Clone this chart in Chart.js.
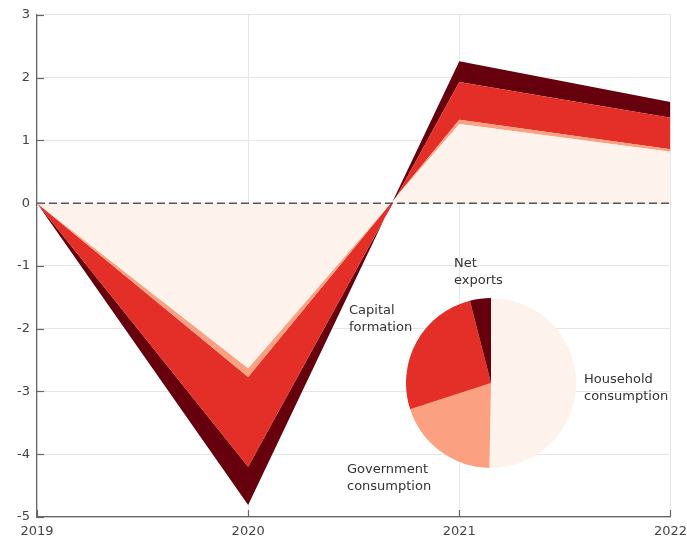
<!DOCTYPE html>
<html>
<head>
<meta charset="utf-8">
<script src="https://cdn.jsdelivr.net/npm/chart.js@4"></script>
<style>
  body { margin: 0; background: #fff; }
  #wrap { position: relative; width: 687px; height: 540px; overflow: hidden; }
  #main { position: absolute; left: 0; top: 0; }
  #pie { position: absolute; left: 406px; top: 298px; }
  .lbl { position: absolute; font: 13px "DejaVu Sans"; color: #333; line-height: 17px; white-space: nowrap; }
</style>
</head>
<body>
<div id="wrap">
  <canvas id="main" width="694" height="540"></canvas>
  <canvas id="pie" width="170" height="170"></canvas>
  <div class="lbl" style="left:454px;top:254px">Net<br>exports</div>
  <div class="lbl" style="left:349px;top:301px">Capital<br>formation</div>
  <div class="lbl" style="left:584px;top:370px">Household<br>consumption</div>
  <div class="lbl" style="left:347px;top:460px">Government<br>consumption</div>
</div>
<script>
// contributions to growth, percentage points
const years = ['2019', '2020', '2021', '2022'];
const household = [0, -2.63, 1.26, 0.82];
const government = [0, -0.14, 0.07, 0.04];
const capital = [0, -1.43, 0.60, 0.50];
const netExports = [0, -0.61, 0.33, 0.25];
const zeroLine = [0, 0, 0, 0];

// share of each component (pie)
const pieLabels = ['Household consumption', 'Government consumption', 'Capital formation', 'Net exports'];
const pieShares = [50.3, 19.7, 26.0, 4.0];

const colors = ['#fef2ec', '#fca082', '#e32f27', '#67000d'];

function area(label, data, color, fill) {
  return {
    label: label,
    data: data,
    backgroundColor: color,
    borderColor: 'transparent',
    borderWidth: 0,
    pointRadius: 0,
    tension: 0,
    fill: fill
  };
}

// inward tick marks, like the original axes
const innerTicks = {
  id: 'innerTicks',
  afterDraw(chart) {
    const ctx = chart.ctx;
    const xs = chart.scales.x, ys = chart.scales.y;
    ctx.save();
    ctx.strokeStyle = '#666';
    ctx.lineWidth = 1.2;
    ys.ticks.forEach(t => {
      const y = Math.round(ys.getPixelForValue(t.value)) + 0.5;
      ctx.beginPath();
      ctx.moveTo(xs.left, y);
      ctx.lineTo(xs.left + 7, y);
      ctx.stroke();
    });
    years.forEach((yr, i) => {
      const x = Math.round(xs.getPixelForValue(i)) + 0.5;
      ctx.beginPath();
      ctx.moveTo(x, ys.bottom);
      ctx.lineTo(x, ys.bottom - 7);
      ctx.stroke();
    });
    ctx.restore();
  }
};

new Chart(document.getElementById('main'), {
  type: 'line',
  data: {
    labels: years,
    datasets: [
      area('Household consumption', household, colors[0], 'origin'),
      area('Government consumption', government, colors[1], '-1'),
      area('Capital formation', capital, colors[2], '-1'),
      area('Net exports', netExports, colors[3], '-1'),
      {
        label: 'zero',
        data: zeroLine,
        stack: 'ref',
        order: -1,
        borderColor: '#555',
        borderWidth: 1.5,
        borderDash: [8, 4],
        pointRadius: 0,
        fill: false
      }
    ]
  },
  options: {
    responsive: false,
    animation: false,
    layout: { padding: { top: 7, right: 0, left: 0, bottom: 0 } },
    plugins: { legend: { display: false }, tooltip: { enabled: false } },
    scales: {
      x: {
        offset: false,
        afterFit: s => { s.height = 23; },
        grid: { color: '#e6e6e6', drawTicks: false },
        border: { color: '#666', width: 1.2 },
        ticks: { color: '#444', font: { family: 'DejaVu Sans', size: 13 }, padding: 7, maxRotation: 0 }
      },
      y: {
        stacked: true,
        min: -5,
        max: 3,
        afterFit: s => { s.width = 37; },
        grid: { color: '#e6e6e6', drawTicks: false },
        border: { color: '#666', width: 1.2 },
        ticks: { stepSize: 1, color: '#444', font: { family: 'DejaVu Sans', size: 13 }, padding: 7 }
      }
    }
  },
  plugins: [innerTicks]
});

new Chart(document.getElementById('pie'), {
  type: 'pie',
  data: {
    labels: pieLabels,
    datasets: [{ data: pieShares, backgroundColor: colors, borderWidth: 0 }]
  },
  options: {
    responsive: false,
    animation: false,
    plugins: { legend: { display: false }, tooltip: { enabled: false } }
  }
});
</script>
</body>
</html>
